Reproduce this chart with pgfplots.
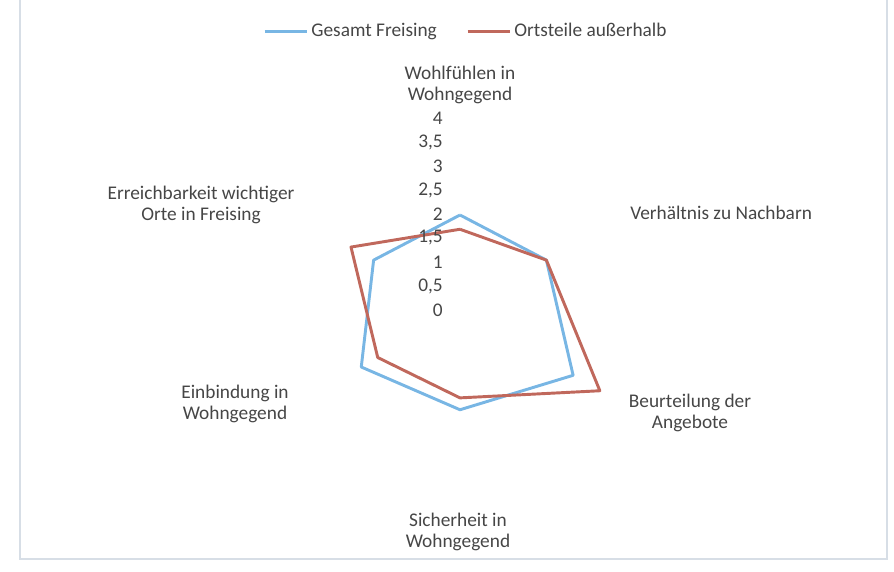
\documentclass[border=0pt]{standalone}
\usepackage{pgfplots}
\pgfplotsset{compat=1.18}
\usepackage{fontspec}
\setmainfont{Carlito}
\definecolor{gesamt}{RGB}{120,182,228}
\definecolor{ortsteile}{RGB}{192,104,92}
\definecolor{txt}{RGB}{70,70,70}
\definecolor{frame}{RGB}{215,222,230}

\begin{document}
\begin{tikzpicture}
\fontsize{14.5}{16}\selectfont
% radar chart, centre at pixel (460,310), 1 unit = 47.5px (1px = 0.75pt)
\begin{axis}[
  at={(345pt,-232.5pt)}, anchor=origin,
  x=35.625pt, y=35.625pt,
  xmin=-5, xmax=5, ymin=-5, ymax=5,
  hide axis, clip=false,
  legend columns=2,
  legend style={at={(axis cs:0.13,5.87)}, anchor=center, draw=none, fill=none,
    font=\fontsize{14.5}{16}\selectfont\color{txt},
    /tikz/every even column/.append style={column sep=20pt},
    inner sep=0pt},
  legend image code/.code={\draw[#1] (0pt,0pt) -- (32pt,0pt);},
]
  \addplot[color=gesamt, line width=2.2pt, line join=round, data cs=polar] coordinates {
    (90,2.0) (30,2.1) (-30,2.75) (-90,2.1) (-150,2.4) (150,2.1) (90,2.0)
  };
  \addlegendentry{Gesamt Freising}
  \addplot[color=ortsteile, line width=2.2pt, line join=round, data cs=polar] coordinates {
    (90,1.7) (30,2.1) (-30,3.4) (-90,1.85) (-150,2.0) (150,2.65) (90,1.7)
  };
  \addlegendentry{Ortsteile außerhalb}
\end{axis}

\begin{scope}[x=0.75pt,y=-0.75pt]
% radial tick labels
\foreach \v/\t in {0/0,1/0{,}5,2/1,3/1{,}5,4/2,5/2{,}5,6/3,7/3{,}5,8/4}
  \node[anchor=east, inner sep=0pt, text=txt] at (443,{310-24*\v}) {\t};

% category labels
\node[align=center, text=txt, inner sep=0pt] at (460,85) {Wohlfühlen in\\Wohngegend};
\node[anchor=west, text=txt, inner sep=0pt] at (630,213) {Verhältnis zu Nachbarn};
\node[align=center, text=txt, inner sep=0pt] at (690,413) {Beurteilung der\\Angebote};
\node[align=center, text=txt, inner sep=0pt] at (458,532) {Sicherheit in\\Wohngegend};
\node[align=center, text=txt, inner sep=0pt] at (235,404) {Einbindung in\\Wohngegend};
\node[align=center, text=txt, inner sep=0pt] at (201,205) {Erreichbarkeit wichtiger\\Orte in Freising};

% chart frame
\draw[frame, line width=1pt] (20,-5) -- (20,559) -- (887,559) -- (887,-5);
\end{scope}

\pgfresetboundingbox
\path[use as bounding box] (0,0) rectangle (670.5pt,-429pt);
\end{tikzpicture}
\end{document}
